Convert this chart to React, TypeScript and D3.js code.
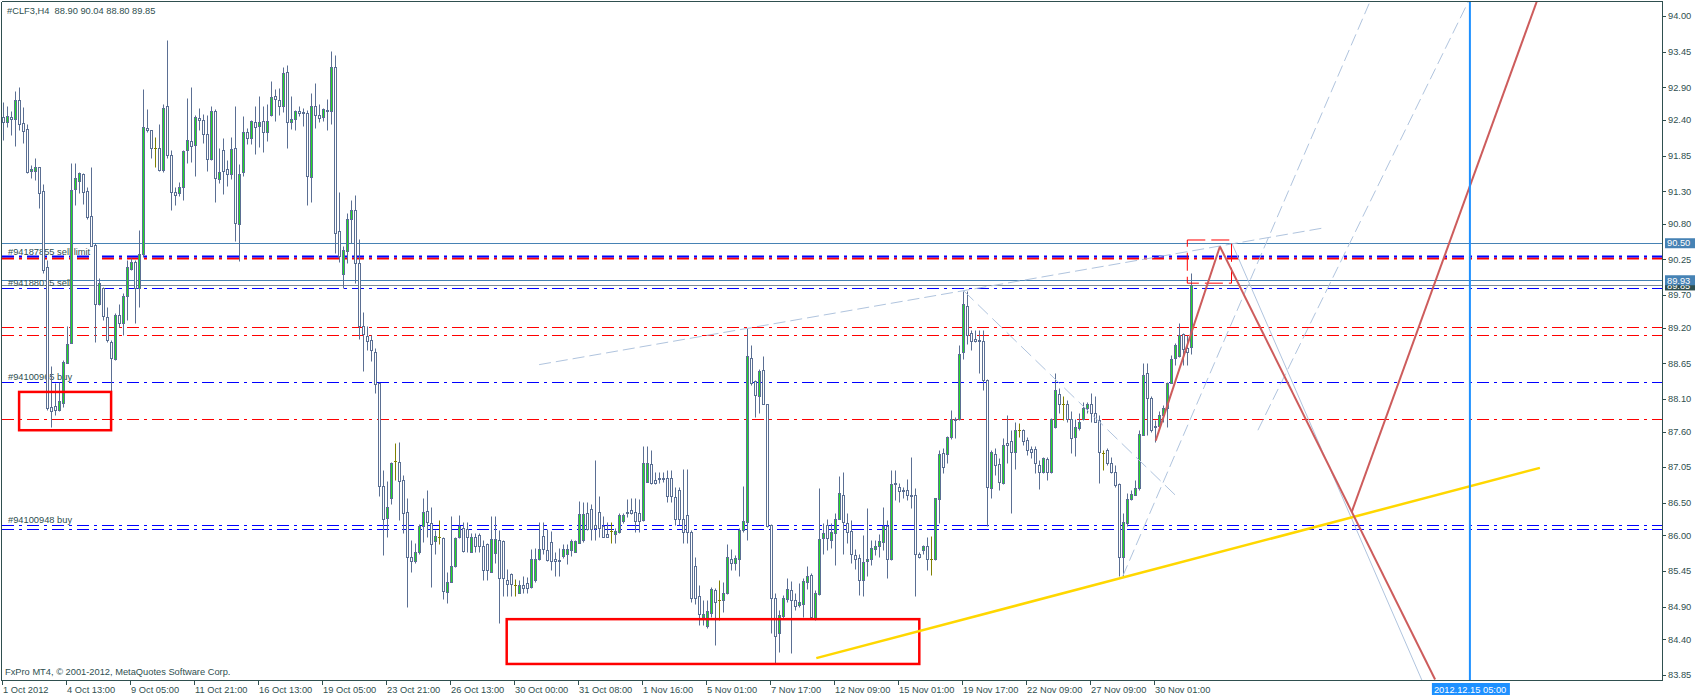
import React from "react";
import * as d3 from "d3";

// ---------- DATA ----------
const barOpen = [
  92.44,92.37,92.44,92.41,92.70,92.35,92.26,91.61,91.62,91.67,91.30,90.13,87.98,87.99,87.93,88.04,88.66,88.97,91.33,91.46,
  91.56,91.30,90.92,90.47,89.56,89.81,89.37,88.98,88.71,89.39,89.27,89.68,90.10,90.21,89.81,90.33,92.28,92.24,91.96,91.96,
  91.63,92.61,91.86,91.29,91.27,91.37,91.93,92.07,92.02,92.43,92.40,92.19,91.80,92.53,91.49,91.93,91.65,91.56,91.96,90.79,
  91.59,92.21,92.12,92.37,92.31,92.38,92.21,92.48,92.77,92.71,92.61,93.14,92.37,92.41,92.53,92.52,92.51,91.52,92.61,92.48,
  92.44,92.55,92.53,93.21,90.69,90.02,90.38,90.87,91.01,90.19,89.23,89.07,89.01,88.83,88.35,86.76,86.27,86.58,87.14,87.13,
  86.86,86.36,85.66,85.60,85.75,86.14,86.38,86.19,85.92,85.98,85.96,85.13,85.29,85.53,85.97,86.11,86.10,85.75,85.97,86.00,
  85.83,85.87,85.44,85.73,85.93,85.92,85.31,85.40,85.24,85.12,85.24,85.26,85.20,85.32,85.64,85.99,85.78,85.90,85.63,85.62,
  85.69,85.72,85.77,85.75,85.89,85.93,86.34,86.40,86.16,86.36,86.15,86.02,86.07,86.02,86.05,86.22,86.36,86.39,86.36,86.35,
  86.23,86.83,87.10,86.86,86.89,86.89,86.88,86.88,86.59,86.70,86.25,86.32,86.06,85.53,85.07,84.74,84.60,84.80,85.16,85.01,
  85.00,85.12,85.63,85.57,85.63,86.08,86.20,88.74,88.38,88.15,88.54,88.02,86.16,85.03,84.49,84.76,85.02,85.16,85.01,84.93,
  84.95,85.29,85.39,84.72,85.09,85.96,86.16,85.93,86.03,86.26,86.63,86.19,86.07,85.70,85.65,85.31,85.60,85.63,85.79,85.84,
  85.90,86.15,85.63,86.80,86.74,86.70,86.70,86.63,86.62,85.71,85.77,85.83,85.63,85.63,86.56,87.27,87.25,87.52,87.80,87.80,
  88.82,89.53,89.11,89.02,89.01,88.99,88.40,86.73,87.25,87.10,86.80,87.43,87.45,87.29,87.63,87.63,87.47,87.33,87.33,87.09,
  86.98,87.17,86.98,87.67,88.18,88.03,88.03,87.79,87.51,87.66,87.79,87.96,88.03,87.88,87.77,87.27,87.32,87.11,86.97,86.79,
  85.67,86.19,86.56,86.63,86.73,87.55,88.50,88.11,87.69,87.69,87.86,87.96,88.35,88.73,88.76,89.10,88.88,88.90,
];
const barHigh = [
  92.68,92.61,92.53,92.84,92.90,92.60,92.34,91.70,91.81,91.68,91.42,90.24,88.61,88.34,88.37,88.70,89.22,91.73,91.73,91.60,
  91.58,91.37,91.68,90.50,89.96,89.83,89.52,89.01,89.42,89.57,89.73,90.24,90.27,90.24,90.70,92.87,92.56,92.25,92.13,92.34,
  92.64,93.63,91.94,91.37,91.45,91.94,92.73,92.90,92.48,92.58,92.49,92.48,92.61,92.56,91.96,92.12,91.78,92.13,92.61,91.72,
  92.46,92.27,92.40,92.61,92.77,92.61,92.65,93.00,92.88,92.89,93.21,93.25,92.77,92.55,92.61,92.58,92.55,92.81,92.97,92.65,
  92.58,92.72,93.46,93.40,91.29,90.45,90.97,91.16,91.24,90.56,89.44,89.23,89.09,88.89,88.36,87.01,86.84,87.13,87.43,87.44,
  86.93,86.57,85.93,85.89,86.18,86.58,86.70,86.44,86.08,86.24,85.97,85.44,86.30,85.97,86.32,86.20,86.20,86.03,86.04,86.04,
  85.93,85.89,86.30,86.30,86.08,85.93,85.49,85.42,85.33,85.31,85.38,85.36,85.79,85.80,86.21,86.20,86.10,86.07,85.75,85.80,
  85.87,85.87,85.94,85.93,86.53,86.52,86.52,86.48,87.16,86.60,86.30,86.21,86.20,86.11,86.34,86.34,86.56,86.57,86.57,86.56,
  87.37,87.37,87.32,86.98,86.97,86.97,87.01,87.01,86.75,86.75,87.03,87.03,86.08,85.67,85.24,85.01,85.01,85.20,85.19,85.32,
  85.29,85.87,85.79,85.70,86.11,86.76,89.19,88.93,88.40,88.56,88.76,88.03,86.17,85.12,84.85,85.08,85.34,85.30,85.12,85.26,
  85.34,85.53,85.42,85.16,86.73,86.19,86.26,86.19,86.34,86.91,86.98,86.34,86.24,85.79,85.72,86.01,86.42,85.93,85.93,86.02,
  86.43,86.24,87.00,87.00,86.80,86.75,86.87,87.21,86.73,85.75,85.85,85.98,85.99,86.58,87.32,87.34,87.53,87.93,87.83,88.94,
  89.77,89.77,89.16,89.16,89.16,89.16,88.41,87.32,87.34,87.19,87.50,87.85,87.63,87.74,87.73,87.64,87.51,87.37,87.37,87.16,
  87.20,87.21,87.81,88.50,88.27,88.14,88.09,87.92,87.80,87.88,88.06,88.06,88.19,88.14,87.85,87.32,87.34,87.21,87.09,86.80,
  86.34,86.65,86.70,86.85,87.62,88.65,88.65,88.14,87.78,87.92,88.01,88.37,88.78,88.96,89.27,89.12,89.09,90.04,
];
const barLow = [
  92.09,92.29,92.17,92.00,92.24,92.05,91.58,91.50,91.47,91.05,90.04,87.93,87.67,87.85,87.91,87.98,88.65,88.96,91.09,91.27,
  91.11,90.88,90.45,88.98,89.55,89.32,88.98,88.16,88.70,89.21,89.09,89.32,90.09,89.27,89.52,90.29,92.22,91.81,91.68,91.62,
  91.60,91.81,91.01,91.09,91.22,91.17,91.73,91.75,91.53,92.24,92.05,91.62,91.78,91.13,91.43,91.26,91.38,91.49,90.53,90.23,
  91.53,92.03,92.03,91.88,91.99,91.91,92.08,92.46,92.39,92.48,92.52,91.96,92.26,92.24,92.46,92.30,91.09,91.13,92.27,92.36,
  92.39,92.24,92.34,90.35,90.21,89.81,90.20,90.51,89.88,89.03,88.53,88.86,88.69,88.20,86.61,85.70,85.98,86.49,86.86,86.23,
  86.03,84.90,85.43,85.58,85.71,85.90,85.98,85.20,85.72,85.87,85.02,84.96,85.28,85.51,85.96,85.74,85.75,85.74,85.74,85.74,
  85.32,85.31,85.43,85.58,84.65,85.06,85.06,85.06,85.06,85.11,85.11,85.11,85.19,85.29,85.62,85.71,85.60,85.47,85.38,85.38,
  85.65,85.56,85.69,85.74,85.88,85.90,86.08,85.93,85.93,85.97,85.97,85.97,85.89,85.89,86.04,86.19,86.28,86.33,86.06,86.06,
  86.22,86.82,86.79,86.79,86.80,86.83,86.52,86.52,86.16,86.16,85.88,85.88,84.98,84.95,84.62,84.62,84.57,84.75,84.31,84.69,
  84.82,85.10,85.46,85.46,85.38,86.06,85.93,88.32,87.83,87.88,88.02,86.13,84.50,84.04,84.21,84.72,84.98,84.19,84.85,84.90,
  84.75,85.18,84.72,84.70,85.08,85.72,85.78,85.80,85.55,86.25,85.72,85.88,85.57,85.48,85.08,85.06,85.37,85.54,85.70,85.66,
  85.78,85.35,85.62,86.55,86.52,86.57,86.55,86.42,85.06,85.65,85.72,85.47,85.39,85.62,86.19,86.96,87.11,87.49,87.50,87.78,
  88.72,88.95,88.86,88.98,88.50,88.24,86.14,86.57,86.93,86.70,86.79,87.11,86.34,87.03,87.52,87.39,87.24,87.19,86.96,86.71,
  86.96,86.86,86.96,87.65,87.88,87.78,87.75,87.27,87.22,87.62,87.78,87.88,87.75,87.74,86.80,87.01,87.09,86.96,86.75,85.37,
  85.37,86.14,86.55,86.62,86.70,87.54,87.55,87.59,87.44,87.66,87.74,87.67,88.34,88.62,88.75,88.62,88.62,88.80,
];
const barClose = [
  92.36,92.46,92.42,92.70,92.33,92.23,91.59,91.64,91.67,91.28,90.09,87.97,87.92,87.93,88.07,88.67,88.95,91.32,91.50,91.58,
  91.29,90.90,90.46,89.56,89.88,89.38,89.01,88.73,89.39,89.27,89.68,90.13,90.21,89.81,90.34,92.29,92.24,91.96,91.96,91.63,
  92.59,91.86,91.29,91.24,91.37,91.92,92.09,92.00,92.44,92.40,92.19,91.80,92.53,91.50,91.59,91.62,91.56,91.95,90.81,91.57,
  92.21,92.12,92.38,92.29,92.37,92.22,92.39,92.75,92.72,92.62,93.12,92.36,92.42,92.53,92.50,92.50,91.53,92.61,92.47,92.43,
  92.56,92.53,93.21,90.66,90.31,90.40,90.88,91.01,90.19,89.23,89.10,89.00,88.85,88.33,86.76,86.25,86.43,87.11,87.14,86.84,
  86.35,85.67,85.60,85.75,86.15,86.36,86.20,85.86,85.99,85.98,85.15,85.29,85.53,85.96,86.15,85.76,85.98,85.98,85.83,85.83,
  85.46,85.46,85.94,85.94,85.34,85.34,85.25,85.25,85.24,85.23,85.19,85.19,85.63,85.63,85.79,85.79,85.62,85.61,85.61,85.60,
  85.79,85.79,85.92,85.92,86.33,86.33,86.10,86.10,86.11,86.12,85.98,85.98,86.07,86.07,86.32,86.32,86.34,86.35,86.22,86.22,
  87.11,87.11,86.80,86.80,86.88,86.88,86.60,86.60,86.26,86.25,86.06,86.06,85.03,85.03,84.79,84.79,84.84,85.17,84.98,85.01,
  85.12,85.67,85.57,85.65,86.09,86.22,88.76,88.34,88.17,88.53,88.03,86.14,85.03,84.45,84.77,85.03,85.17,85.01,84.91,84.98,
  85.30,85.38,84.75,85.12,85.94,86.03,85.96,86.05,86.26,86.65,86.20,86.06,85.71,85.64,85.32,85.59,85.63,85.80,85.84,85.92,
  86.15,85.63,86.79,86.79,86.69,86.68,86.63,86.62,85.71,85.66,85.84,85.63,85.63,86.57,87.26,87.06,87.51,87.79,87.79,88.80,
  89.56,89.09,89.00,88.99,88.99,88.39,86.74,87.29,87.09,86.83,87.40,87.40,87.29,87.63,87.63,87.46,87.31,87.29,87.11,86.98,
  87.19,86.97,87.80,88.24,88.02,88.03,87.79,87.50,87.67,87.74,87.97,88.02,87.88,87.75,87.28,87.27,87.11,86.98,86.77,85.66,
  86.20,86.56,86.64,86.73,87.56,88.47,88.12,87.62,87.67,87.86,87.96,88.35,88.72,88.93,89.09,88.87,88.83,89.85,
];

const symbolName = "#CLF3,H4";
const priceTicks = [94.0,93.45,92.9,92.4,91.85,91.3,90.8,90.25,89.7,89.2,88.65,88.1,87.6,87.05,86.5,86.0,85.45,84.9,84.4,83.85];
const timeTickBars = [0,16,32,48,64,80,96,112,128,144,160,176,192,208,224,240,256,272,288];
const timeLabels = [
  "1 Oct 2012","4 Oct 13:00","9 Oct 05:00","11 Oct 21:00","16 Oct 13:00","19 Oct 05:00","23 Oct 21:00",
  "26 Oct 13:00","30 Oct 00:00","31 Oct 08:00","1 Nov 16:00","5 Nov 01:00","7 Nov 17:00","12 Nov 09:00",
  "15 Nov 01:00","19 Nov 17:00","22 Nov 09:00","27 Nov 09:00","30 Nov 01:00",
];

// horizontal order / price lines
const levelPrices = [90.50, 90.29, 89.93, 89.85, 89.81, 89.21, 89.09, 88.36, 87.79, 86.16, 86.10];
const levelKinds = ["steel","limit","steel","bid","blue","red","red","blue","red","blue","blue"];
const orderLabels = ["#94187855 sell limit", "#94188015 sell", "#94100965 buy", "#94100948 buy"];
const orderLabelPrices = [90.29, 89.81, 88.36, 86.16];
const tagPrices = [89.85, 90.50, 89.93];
const tagKinds = ["bid", "steel", "steel"];

// drawn objects: [bar1, price1, bar2, price2]
const trendLines = [
  [133.9, 88.63, 330.4, 90.74],
  [279.8, 85.37, 341.4, 94.19],
  [313.6, 87.62, 366.2, 94.22],
];
const dottedLines = [[240, 89.77, 293.3, 86.60]];
const thinLines = [[307.1, 90.50, 354.6, 83.77]];
const zigzagLines = [
  [288.05, 87.46, 304.1, 90.45],
  [304.1, 90.45, 357.9, 83.78],
  [337.05, 86.36, 383.3, 94.22],
];
const goldLine = [203.2, 84.11, 384.1, 87.04];
const boxes = [
  [3.9, 88.21, 26.9, 87.62],
  [125.8, 84.71, 228.95, 84.02],
];
const dashedBox = [295.95, 90.55, 307.0, 89.885];
const futureBar = 366.6;
const futureLabel = "2012.12.15 05:00";

// ---------- LAYOUT ----------
const W = 1700, H = 697;
const L = 2, T = 2, R = 1662, B = 680;
const FONT = "'Liberation Sans', Arial, sans-serif";
const FS = 9.3;
const AXIS = "#2f4f4f";
const SLATE = "#5b6f93";
const GREEN = "#22dc22";
const OLIVE = "#808000";
const LSB = "#b0c4de";
const DASHDOT = "12,5,3,5";

export default function App() {
  const x = d3.scaleLinear().domain([0, 1]).range([3.5, 7.5]);
  const y = d3.scaleLinear().domain([83.85, 94]).range([675, 16]);
  const sy = (p: number) => Math.round(y(p)) + 0.5;
  const n = barClose.length;

  const seg = (l: number[], key: string, props: any) => (
    <line key={key} x1={x(l[0])} y1={y(l[1])} x2={x(l[2])} y2={y(l[3])} {...props} />
  );

  const levelEls = levelPrices.map((p, k) => {
    const kind = levelKinds[k];
    const yy = sy(p);
    if (kind === "steel") return <line key={"lv" + k} x1={L} x2={R} y1={yy} y2={yy} stroke="#4682b4" strokeWidth={1} />;
    if (kind === "bid") return <line key={"lv" + k} x1={L} x2={R} y1={yy} y2={yy} stroke="#7a8a99" strokeWidth={1} />;
    if (kind === "limit")
      return (
        <g key={"lv" + k}>
          <line x1={L} x2={R} y1={yy + 1} y2={yy + 1} stroke="#ff0000" strokeWidth={2} strokeDasharray={DASHDOT} />
          <line x1={L} x2={R} y1={yy - 1} y2={yy - 1} stroke="#0000ff" strokeWidth={2} strokeDasharray={DASHDOT} />
        </g>
      );
    return (
      <line key={"lv" + k} x1={L} x2={R} y1={yy} y2={yy}
        stroke={kind === "red" ? "#ff0000" : "#0000ff"} strokeWidth={1} strokeDasharray={DASHDOT} />
    );
  });

  const candles = d3.range(n).map((i) => {
    const o = barOpen[i], c = barClose[i], h = barHigh[i], l = barLow[i];
    const cx = x(i);
    if (o === c) {
      return (
        <g key={"c" + i}>
          <line x1={cx} x2={cx} y1={sy(h)} y2={sy(l)} stroke={OLIVE} strokeWidth={1} />
          <line x1={cx - 1.5} x2={cx + 1.5} y1={sy(o)} y2={sy(o)} stroke={OLIVE} strokeWidth={1} />
        </g>
      );
    }
    const top = sy(Math.max(o, c)), bot = sy(Math.min(o, c));
    return (
      <g key={"c" + i}>
        <line x1={cx} x2={cx} y1={sy(h)} y2={sy(l)} stroke={SLATE} strokeWidth={1} />
        <rect x={cx - 1} y={top} width={2} height={Math.max(bot - top, 1)}
          fill={c > o ? GREEN : "#ffffff"} stroke={SLATE} strokeWidth={1} />
      </g>
    );
  });

  const last = n - 1;
  const header = `${symbolName}  ${barOpen[last].toFixed(2)} ${barHigh[last].toFixed(2)} ${barLow[last].toFixed(2)} ${barClose[last].toFixed(2)}`;
  const fx = x(futureBar);

  return (
    <svg width={W} height={H} style={{ position: "absolute", left: 0, top: 0, background: "#fff" }}
      fontFamily={FONT} fontSize={FS}>
      <defs>
        <clipPath id="plot">
          <rect x={L} y={T} width={R - L} height={B - T} />
        </clipPath>
      </defs>
      <rect x={0} y={0} width={W} height={H} fill="#ffffff" />

      <g clipPath="url(#plot)">
        {levelEls}
        {orderLabels.map((t, k) => (
          <text key={"ol" + k} x={8} y={sy(orderLabelPrices[k]) - 3} fill={AXIS}>{t}</text>
        ))}
        {candles}
        {trendLines.map((l, k) => seg(l, "tl" + k, { stroke: LSB, strokeWidth: 1, strokeDasharray: "12,5" }))}
        {dottedLines.map((l, k) => seg(l, "dl" + k, { stroke: LSB, strokeWidth: 1, strokeDasharray: "14,6" }))}
        {thinLines.map((l, k) => seg(l, "th" + k, { stroke: LSB, strokeWidth: 1 }))}
        {boxes.map((b, k) => (
          <rect key={"bx" + k} x={x(b[0])} y={y(b[1])} width={x(b[2]) - x(b[0])} height={y(b[3]) - y(b[1])}
            fill="none" stroke="#ff0000" strokeWidth={2.5} />
        ))}
        <rect x={x(dashedBox[0])} y={y(dashedBox[1])} width={x(dashedBox[2]) - x(dashedBox[0])}
          height={y(dashedBox[3]) - y(dashedBox[1])} fill="none" stroke="#ff0000" strokeWidth={1} strokeDasharray="18,6" />
        {seg(goldLine, "gold", { stroke: "#ffd700", strokeWidth: 2.5 })}
        {zigzagLines.map((l, k) => seg(l, "zz" + k, { stroke: "#cd5c5c", strokeWidth: 2 }))}
        <line x1={fx} x2={fx} y1={T} y2={B} stroke="#1e90ff" strokeWidth={2} />
        <text x={7} y={14} fill={AXIS} style={{ whiteSpace: "pre" }}>{header}</text>
        <text x={5} y={675} fill={AXIS}>FxPro MT4, © 2001-2012, MetaQuotes Software Corp.</text>
      </g>

      {/* frame */}
      <line x1={L - 0.5} x2={L - 0.5} y1={T} y2={B} stroke={AXIS} strokeWidth={1} />
      <line x1={L} x2={R} y1={T - 0.5} y2={T - 0.5} stroke={AXIS} strokeWidth={1} />
      <line x1={R + 0.5} x2={R + 0.5} y1={T - 1} y2={B + 1} stroke={AXIS} strokeWidth={1} />
      <line x1={L - 1} x2={R + 1} y1={B + 0.5} y2={B + 0.5} stroke={AXIS} strokeWidth={1} />

      {/* price axis */}
      {priceTicks.map((p, k) => (
        <g key={"pt" + k}>
          <line x1={R + 1} x2={R + 4} y1={sy(p)} y2={sy(p)} stroke={AXIS} />
          <text x={R + 6} y={y(p)} dy="0.35em" fill={AXIS}>{p.toFixed(2)}</text>
        </g>
      ))}
      {tagPrices.map((p, k) => (
        <g key={"tg" + k}>
          <rect x={R + 3} y={y(p) - 5} width={30} height={10} fill={tagKinds[k] === "bid" ? "#2f4f4f" : "#4682b4"} />
          <text x={R + 5} y={y(p)} dy="0.35em" fill="#ffffff">{p.toFixed(2)}</text>
        </g>
      ))}

      {/* time axis */}
      {timeTickBars.map((b, k) => {
        const tx = Math.round(x(b) - 1.5) + 0.5;
        return (
          <g key={"tt" + k}>
            <line x1={tx} x2={tx} y1={B + 1} y2={B + 5} stroke={AXIS} />
            <text x={tx + 0.5} y={693} fill={AXIS}>{timeLabels[k]}</text>
          </g>
        );
      })}
      <rect x={fx - 38} y={683} width={78} height={12} fill="#1e90ff" />
      <text x={fx - 36} y={692.5} fill="#ffffff">{futureLabel}</text>
    </svg>
  );
}
